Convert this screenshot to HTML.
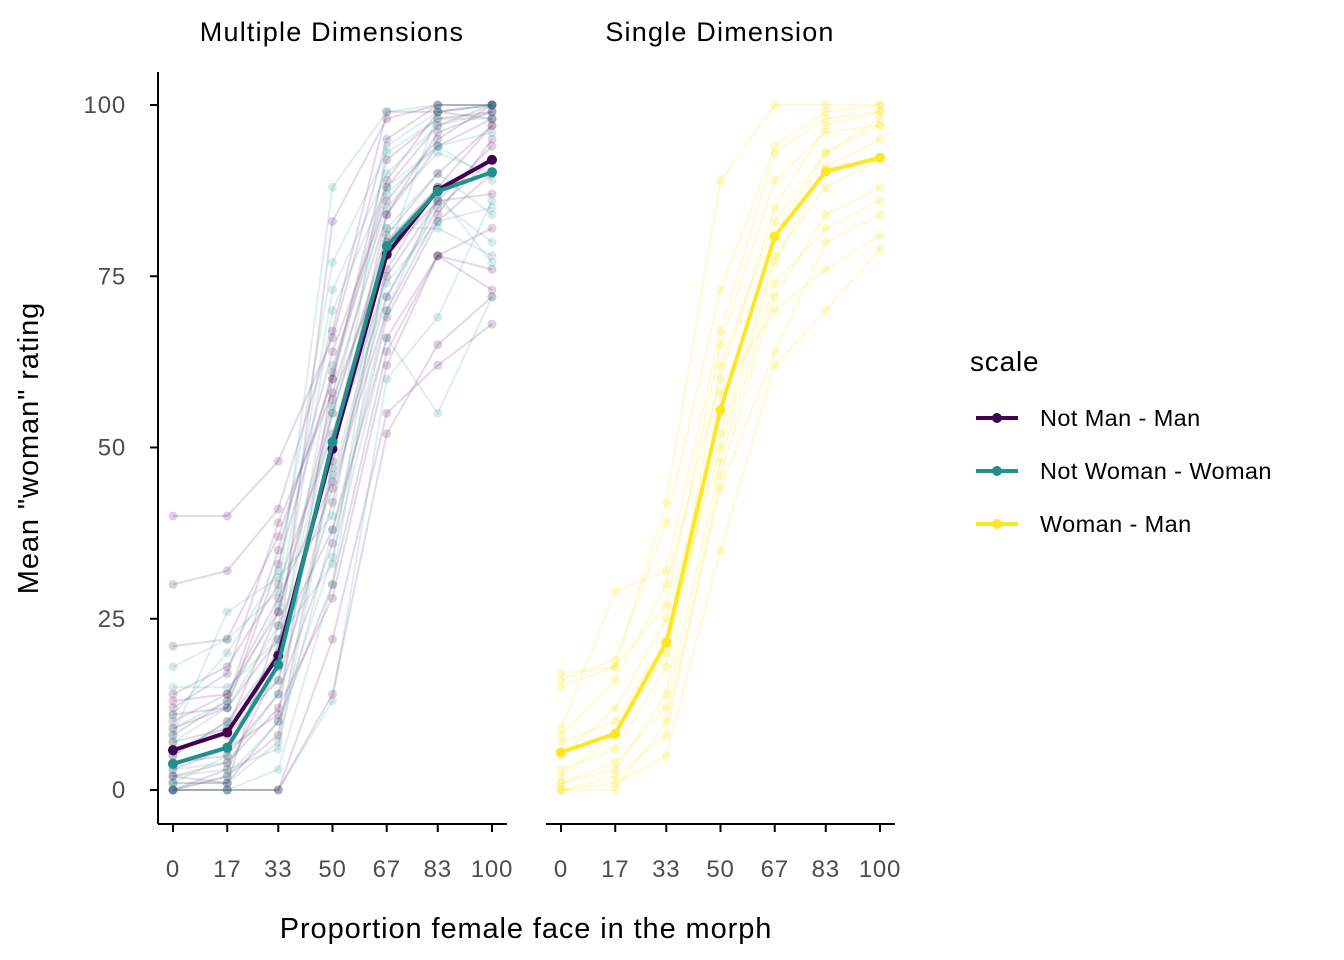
<!DOCTYPE html>
<html><head><meta charset="utf-8"><style>
body{margin:0;background:#fff;}
svg{display:block;font-family:"Liberation Sans",Arial,sans-serif;}
</style></head><body>
<svg id="chart" width="1344" height="960">
<g id="plot"></g>
</svg>
<script>
const categories=[0,17,33,50,67,83,100];
const yTicks=[0,25,50,75,100];
const meanNotManMan=[5.8,8.4,19.6,49.8,78.2,87.6,92.0];
const meanNotWomanWoman=[3.8,6.2,18.3,50.8,79.4,87.4,90.2];
const meanWomanMan=[5.5,8.2,21.5,55.5,80.8,90.3,92.3];
const indivNotManMan=[
[40,40,48,66,95,100,100],[30,32,41,67,99,99,98],[21,22,37,60,88,97,100],[14,18,30,52,80,88,90],
[10,14,28,45,72,85,92],[9,12,22,38,66,78,82],[5,10,20,83,98,100,100],[0,0,0,22,55,62,68],
[2,4,12,28,62,78,73],[0,2,8,48,84,94,98],[13,14,26,57,78,86,87],[0,0,0,14,52,65,72],
[6,8,16,42,76,88,97],[3,6,11,60,92,98,99],[1,1,24,44,70,84,95],[8,13,35,64,86,95,100],
[11,12,33,61,89,99,100],[7,9,26,55,81,90,97],[0,3,18,50,75,86,94],[4,5,14,36,69,83,90],
[12,17,39,58,84,96,99],[2,1,10,30,64,78,76]];
const indivNotWomanWoman=[
[18,22,29,88,99,100,100],[11,20,32,77,93,98,98],[7,12,24,70,88,94,96],[4,6,18,55,80,88,92],
[3,4,14,46,74,83,85],[0,2,10,34,66,55,72],[8,26,31,40,82,82,78],[0,0,0,13,60,69,86],
[15,15,22,33,82,90,84],[2,3,6,47,94,99,100],[1,1,7,38,70,87,77],[6,9,20,62,85,93,90],
[0,0,3,30,78,99,100],[5,10,16,51,72,86,80],[9,13,27,73,90,97,99],[1,5,21,56,87,94,89]];
const indivWomanMan=[
[17,18,42,89,100,100,100],[16,19,39,73,94,99,100],[9,29,32,67,93,98,99],[8,16,30,60,85,97,99],
[5,12,25,55,81,93,98],[2,8,20,52,78,88,92],[1,4,12,48,74,82,86],[0,0,10,44,64,80,84],
[0,1,5,35,62,70,79],[1,3,14,58,70,76,81],[15,18,27,65,89,96,97],[0,2,8,46,72,84,88],
[7,10,22,50,77,91,95],[3,6,18,62,83,93,97]];

const NS='http://www.w3.org/2000/svg';
const g=document.getElementById('plot');
function mk(t,a,p){const e=document.createElementNS(NS,t);for(const k in a)e.setAttribute(k,a[k]);(p||g).appendChild(e);return e;}
function yS(v){return 790-(v/100)*685;}
function xS(panel,v){const x0=panel===0?173:561;const x1=panel===0?492:880;return x0+(v/100)*(x1-x0);}
const COL={nmm:'#440154',nww:'#21908C',wm:'#FDE725'};

function drawSeries(panel,vals,color,op,pop,lw,r,name){
  const pts=vals.map((v,i)=>[xS(panel,categories[i]),yS(v)]);
  const pl=mk('polyline',{points:pts.map(p=>p.join(',')).join(' '),fill:'none',stroke:color,'stroke-width':lw,'stroke-opacity':op});
  
  
  pts.forEach(p=>{const c=mk('circle',{cx:p[0],cy:p[1],r:r,fill:color,'fill-opacity':pop});
    
    });
}
indivNotManMan.forEach(s=>drawSeries(0,s,COL.nmm,0.15,0.18,2,4.5,'participant-not-man-man'));
indivNotWomanWoman.forEach(s=>drawSeries(0,s,COL.nww,0.15,0.18,2,4.5,'participant-not-woman-woman'));
indivWomanMan.forEach(s=>drawSeries(1,s,COL.wm,0.2,0.25,2,4.5,'participant-woman-man'));
drawSeries(0,meanNotManMan,COL.nmm,1,1,4,5,'mean-not-man-man');
drawSeries(0,meanNotWomanWoman,COL.nww,1,1,4,5,'mean-not-woman-woman');
drawSeries(1,meanWomanMan,COL.wm,1,1,4,5,'mean-woman-man');

let a=mk('line',{x1:158,y1:72,x2:158,y2:824,stroke:'#000','stroke-width':2});

[[158,507],[546,895]].forEach((r,pi)=>{
  const l=mk('line',{x1:r[0],y1:824,x2:r[1],y2:824,stroke:'#000','stroke-width':2});
  
  categories.forEach(c=>{const x=xS(pi,c);
    const t=mk('line',{x1:x,y1:824,x2:x,y2:832,stroke:'#000','stroke-width':2});
    
    const tx=mk('text',{x:x,y:877,'text-anchor':'middle','font-size':24,'letter-spacing':0.8,fill:'#4d4d4d'});tx.textContent=c;
    });
});
yTicks.forEach(v=>{const y=yS(v);
  const t=mk('line',{x1:150,y1:y,x2:158,y2:y,stroke:'#000','stroke-width':2});
  
  const tx=mk('text',{x:126,y:y+8,'text-anchor':'end','font-size':24,'letter-spacing':0.8,fill:'#4d4d4d'});tx.textContent=v;
  });
function txt(x,y,s,size,name,extra){const t=mk('text',Object.assign({x:x,y:y,'font-size':size,fill:'#000'},extra||{}));t.textContent=s;
  return t;}
txt(332,41,'Multiple Dimensions',27,'strip-title-multiple',{'text-anchor':'middle','letter-spacing':1.2});
txt(720,41,'Single Dimension',27,'strip-title-single',{'text-anchor':'middle','letter-spacing':1.2});
txt(526,938,'Proportion female face in the morph',29,'x-axis-title',{'text-anchor':'middle','letter-spacing':0.9});
txt(38,448,'Mean "woman" rating',29,'y-axis-title',{'text-anchor':'middle','letter-spacing':0.9,transform:'rotate(-90 38 448)'});
txt(970,371,'scale',28,'legend-title',{'letter-spacing':0.8});
[['Not Man - Man',COL.nmm,418],['Not Woman - Woman',COL.nww,471],['Woman - Man',COL.wm,524]].forEach(e=>{
  const l=mk('line',{x1:976,y1:e[2],x2:1018,y2:e[2],stroke:e[1],'stroke-width':4});
  
  const c=mk('circle',{cx:997,cy:e[2],r:5,fill:e[1]});
  
  txt(1040,e[2]+8,e[0],23.5,'legend-entry',{'letter-spacing':0.4});
});
</script>
</body></html>
